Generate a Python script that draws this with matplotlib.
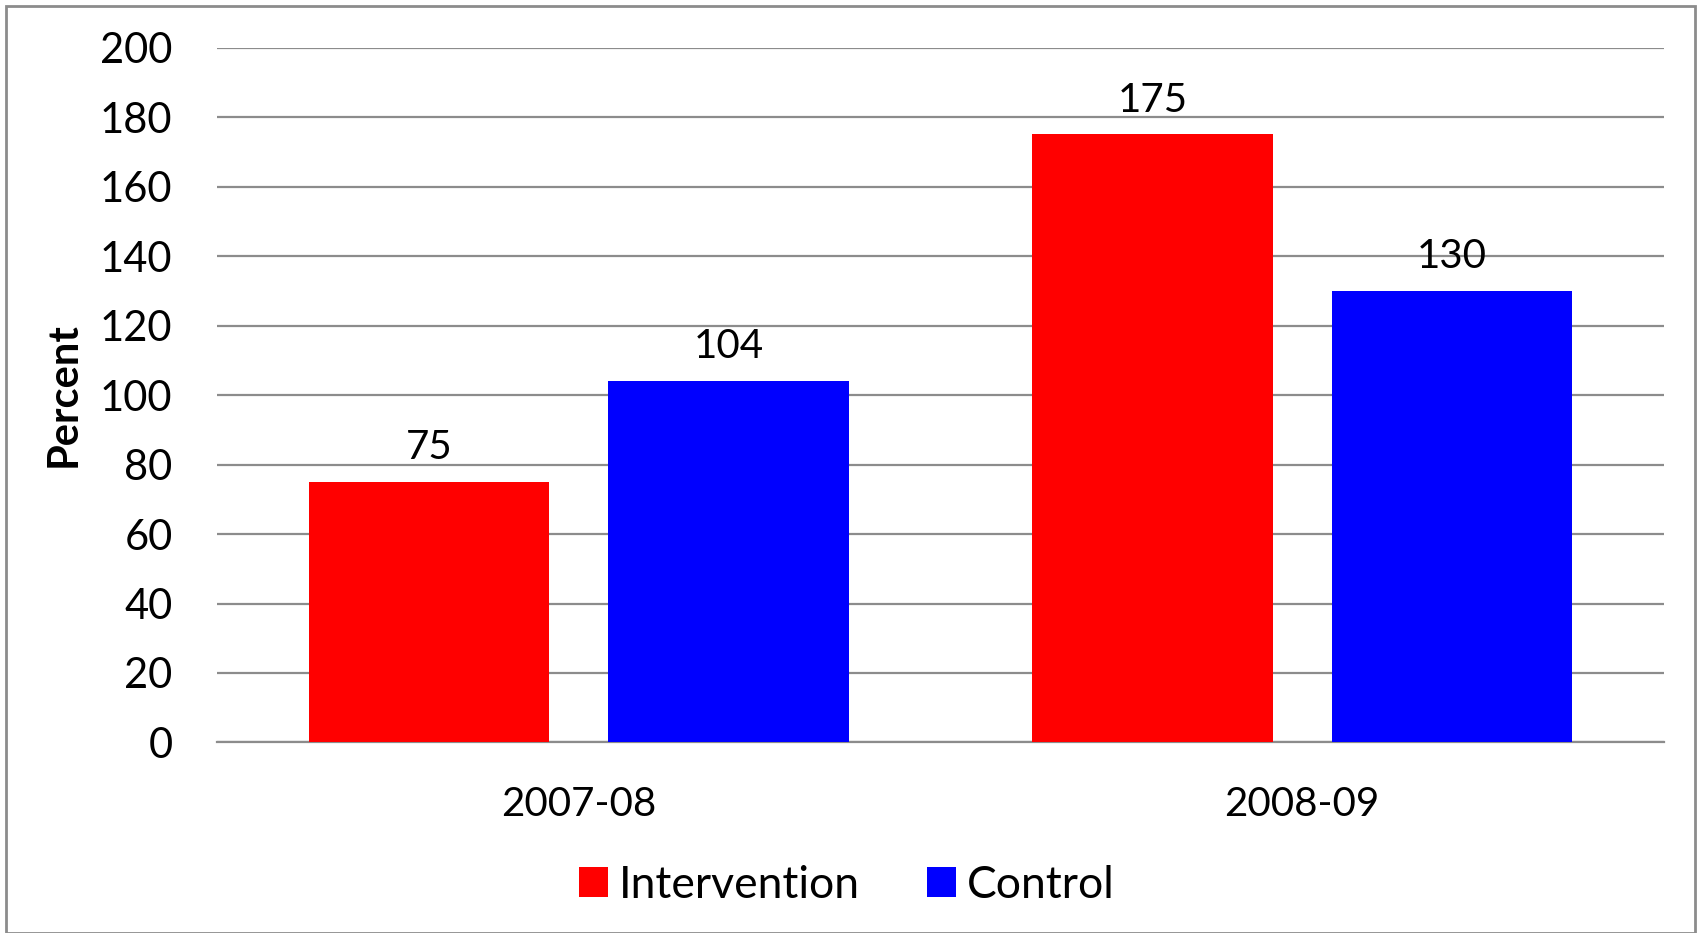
import numpy as np
import matplotlib.pyplot as plt
from matplotlib.patches import Rectangle

plt.rcParams['font.family'] = ['Lato', 'DejaVu Sans']

# data
years = ['2007-08', '2008-09']
intervention = [75, 175]
control = [104, 130]
yticks = [0, 20, 40, 60, 80, 100, 120, 140, 160, 180, 200]

fig = plt.figure(figsize=(16.99, 9.33), dpi=100)
ax = fig.add_axes([0.1277, 0.2042, 0.8517, 0.7448])

x = np.arange(len(years))
w = 0.332
off = 0.207
b1 = ax.bar(x - off, intervention, w, color='#ff0000', label='Intervention', zorder=3)
b2 = ax.bar(x + off, control, w, color='#0000ff', label='Control', zorder=3)

for bars, vals in ((b1, intervention), (b2, control)):
    for r, v in zip(bars, vals):
        ax.text(r.get_x() + r.get_width() / 2, v + 4.5, str(v),
                ha='center', va='bottom', fontsize=29)

ax.set_xlim(-0.5, 1.5)
ax.set_ylim(0, 200)
ax.set_yticks(yticks)
ax.set_xticks(x)
ax.set_xticklabels(years, fontsize=29)
ax.tick_params(axis='y', labelsize=30, length=0, pad=32)
ax.tick_params(axis='x', length=0, pad=31)
ax.yaxis.grid(True, color='#8c8c8c', linewidth=1.6, zorder=0)
for s in ['left', 'right', 'top']:
    ax.spines[s].set_visible(False)
ax.spines['bottom'].set_color('#8c8c8c')
ax.spines['bottom'].set_linewidth(1.6)
ax.set_ylabel('Percent', fontsize=30, fontweight='bold')
ax.yaxis.set_label_coords(-0.093, 0.5)

fig.legend(loc='center', bbox_to_anchor=(0.4985, 0.051), ncol=2, frameon=False,
           fontsize=32, handlelength=0.66, handleheight=0.66, handletextpad=0.25,
           columnspacing=1.5)

# outer chart border
fig.patches.append(Rectangle((0.0035, 0.0), 0.9941, 0.9935, transform=fig.transFigure,
                             fill=False, edgecolor='#8c8c8c', linewidth=2))

fig.savefig('out.png', dpi=100)
